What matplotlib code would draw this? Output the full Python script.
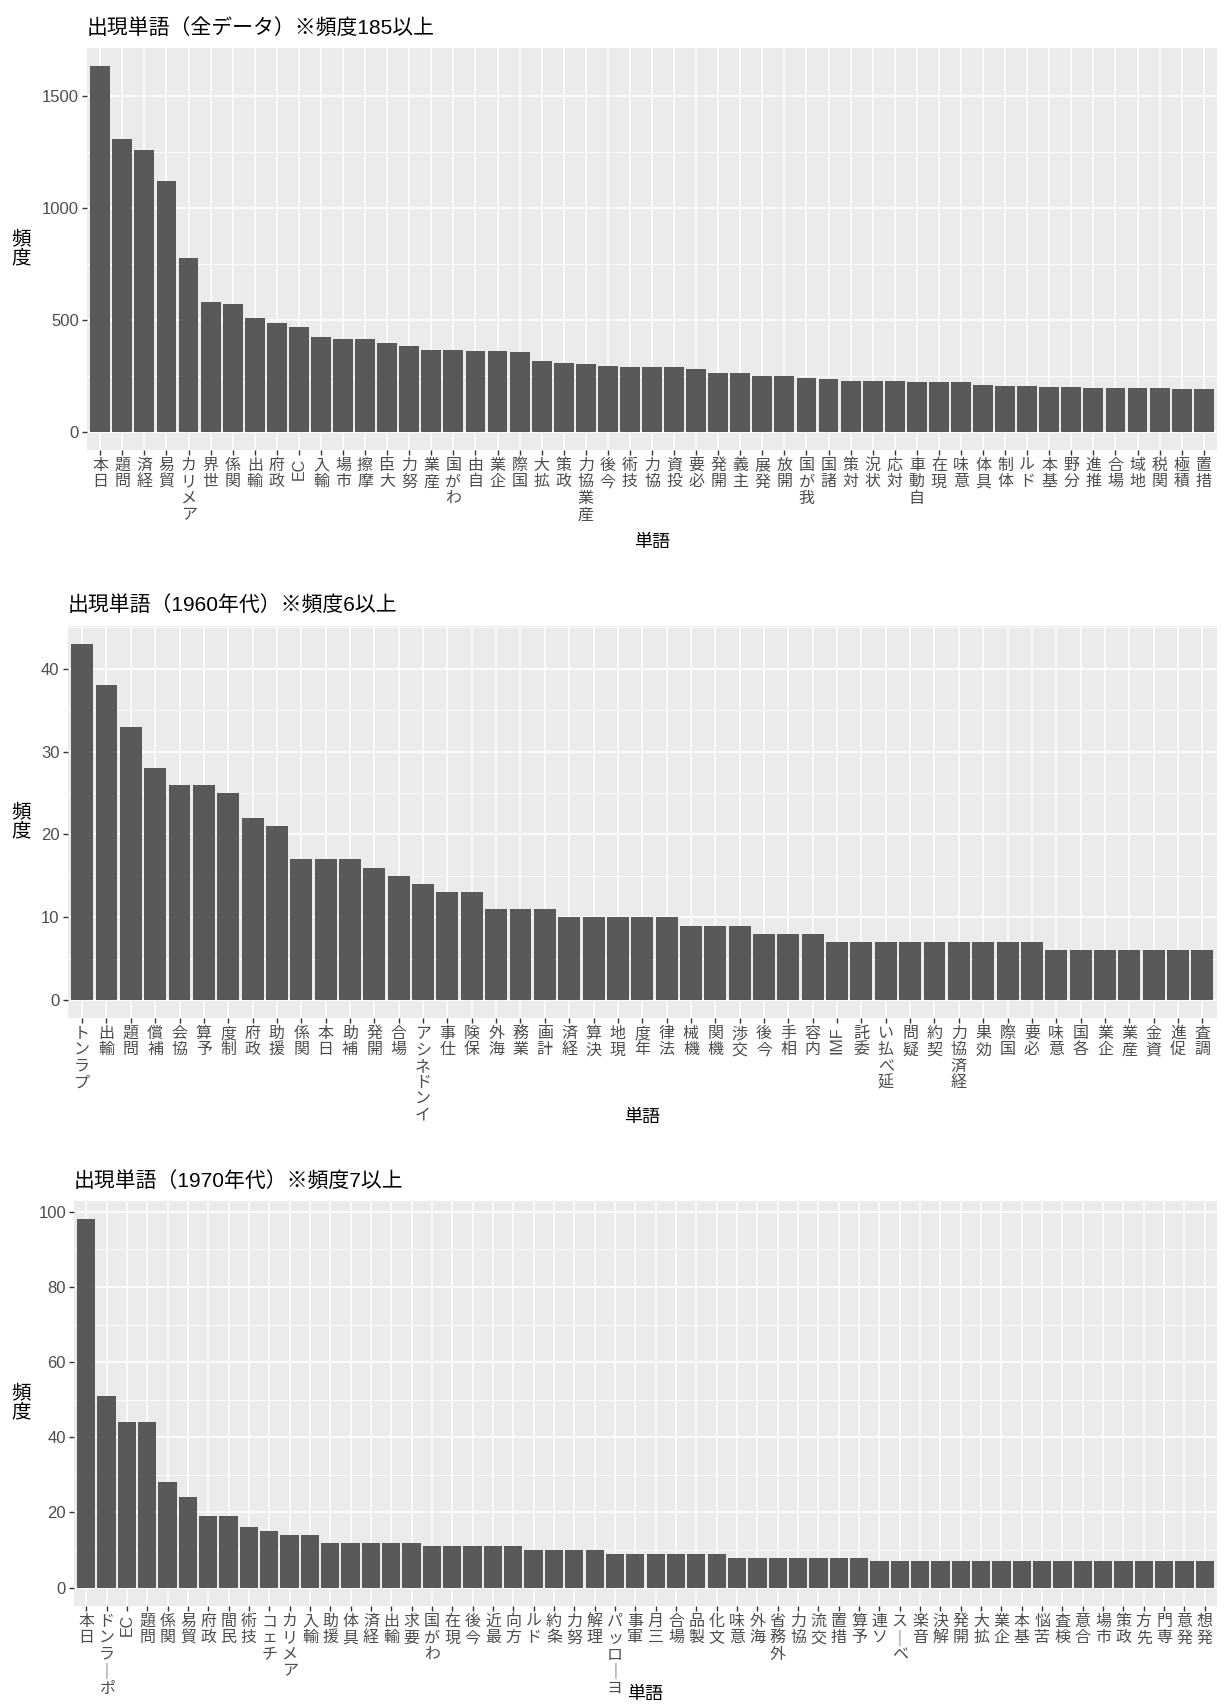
import matplotlib
matplotlib.use("Agg")
import matplotlib.pyplot as plt
from matplotlib.ticker import FixedLocator

plt.rcParams['font.family'] = ['Liberation Sans', 'Noto Sans CJK JP', 'DejaVu Sans']

# ---------------- data ----------------
words_all = ["日本", "問題", "経済", "貿易", "アメリカ", "世界", "関係", "輸出", "政府", "EC",
             "輸入", "市場", "摩擦", "大臣", "努力", "産業", "わが国", "自由", "企業", "国際",
             "拡大", "政策", "産業協力", "今後", "技術", "協力", "投資", "必要", "開発", "主義",
             "発展", "開放", "我が国", "諸国", "対策", "状況", "対応", "自動車", "現在", "意味",
             "具体", "体制", "ドル", "基本", "分野", "推進", "場合", "地域", "関税", "積極", "措置"]
freq_all = [1632, 1306, 1260, 1121, 776, 581, 571, 509, 487, 468,
            422, 412, 412, 396, 385, 365, 365, 359, 359, 354,
            318, 309, 303, 294, 288, 288, 288, 282, 263, 263,
            251, 247, 241, 235, 226, 226, 226, 222, 222, 222,
            210, 206, 206, 200, 200, 196, 196, 196, 196, 190, 190]

words_60s = ["プラント", "輸出", "問題", "補償", "協会", "予算", "制度", "政府", "援助", "関係",
             "日本", "補助", "開発", "場合", "インドネシア", "仕事", "保険", "海外", "業務", "計画",
             "経済", "決算", "現地", "年度", "法律", "機械", "機関", "交渉", "今後", "相手",
             "内容", "IMF", "委託", "延べ払い", "疑問", "契約", "経済協力", "効果", "国際", "必要",
             "意味", "各国", "企業", "産業", "資金", "促進", "調査"]
freq_60s = [43, 38, 33, 28, 26, 26, 25, 22, 21, 17,
            17, 17, 16, 15, 14, 13, 13, 11, 11, 11,
            10, 10, 10, 10, 10, 9, 9, 9, 8, 8,
            8, 7, 7, 7, 7, 7, 7, 7, 7, 7,
            6, 6, 6, 6, 6, 6, 6]

words_70s = ["日本", "ポーランド", "EC", "問題", "関係", "貿易", "政府", "民間", "技術", "チェコ",
             "アメリカ", "輸入", "援助", "具体", "経済", "輸出", "要求", "わが国", "現在", "今後",
             "最近", "方向", "ドル", "条約", "努力", "理解", "ヨーロッパ", "軍事", "三月", "場合",
             "製品", "文化", "意味", "海外", "外務省", "協力", "交流", "措置", "予算", "ソ連",
             "ベース", "音楽", "解決", "開発", "拡大", "企業", "基本", "苦悩", "検査", "合意",
             "市場", "政策", "先方", "専門", "発意", "発想"]
freq_70s = [98, 51, 44, 44, 28, 24, 19, 19, 16, 15,
            14, 14, 12, 12, 12, 12, 12, 11, 11, 11,
            11, 11, 10, 10, 10, 10, 9, 9, 9, 9,
            9, 9, 8, 8, 8, 8, 8, 8, 8, 7,
            7, 7, 7, 7, 7, 7, 7, 7, 7, 7,
            7, 7, 7, 7, 7, 7]

titles = ["出現単語（全データ）※頻度185以上",
          "出現単語（1960年代）※頻度6以上",
          "出現単語（1970年代）※頻度7以上"]
major_ticks = [[0, 500, 1000, 1500], [0, 10, 20, 30, 40], [0, 20, 40, 60, 80, 100]]
minor_ticks = [[250, 750, 1250], [5, 15, 25, 35, 45], [10, 30, 50, 70, 90]]

# ---------------- layout ----------------
W, H = 1224, 1707
fig = plt.figure(figsize=(W / 100, H / 100), dpi=100)

# (left, top, right, bottom) in pixels
boxes = [(87, 48, 1217, 450), (67.5, 626, 1217, 1018), (74, 1201, 1217, 1606)]
xlabel_y = [-0.21, -0.232, -0.197]
ylabel_x = [-0.058, -0.040, -0.046]
title_pad = [10, 11, 10]

datasets = [(words_all, freq_all), (words_60s, freq_60s), (words_70s, freq_70s)]


def vlabel(s):
    if s.isascii():
        return s
    return "\n".join("｜" if ch == "ー" else ch for ch in reversed(s))


for k, ((words, freqs), (l, t, r, b)) in enumerate(zip(datasets, boxes)):
    ax = fig.add_axes([l / W, 1 - b / H, (r - l) / W, (b - t) / H])
    n = len(words)
    xs = list(range(n))
    ax.bar(xs, freqs, width=0.9, color='#595959', zorder=2)
    mx = max(freqs)
    ax.set_ylim(-0.05 * mx, 1.05 * mx)
    ax.set_xlim(-0.6, n - 0.4)

    ax.set_facecolor('#EBEBEB')
    for sp in ax.spines.values():
        sp.set_visible(False)
    ax.set_axisbelow(True)
    ax.yaxis.set_major_locator(FixedLocator(major_ticks[k]))
    ax.yaxis.set_minor_locator(FixedLocator(minor_ticks[k]))
    ax.set_xticks(xs)
    ax.set_xticklabels([vlabel(w) for w in words], linespacing=1.12)
    for lab, w in zip(ax.get_xticklabels(), words):
        if w.isascii():
            lab.set_rotation(90)
    ax.grid(which='major', color='white', linewidth=1.1)
    ax.grid(which='minor', axis='y', color='white', linewidth=0.55)
    ax.tick_params(axis='both', which='major', length=3.7, width=1.0,
                   color='#333333', labelcolor='#4D4D4D', labelsize=11.5, pad=2)
    ax.tick_params(axis='y', which='minor', length=0)
    for lab in ax.get_yticklabels():
        lab.set_fontsize(12)

    ax.set_xlabel('単語', fontsize=13, color='black')
    ax.xaxis.set_label_coords(0.5, xlabel_y[k])
    ax.set_ylabel('頻\n度', fontsize=14, color='black', rotation=0,
                  va='center', ha='center', linespacing=1.05)
    ax.yaxis.set_label_coords(ylabel_x[k], 0.5)
    ax.set_title(titles[k], loc='left', fontsize=15, color='black', pad=title_pad[k])

fig.savefig('out.png', dpi=100, facecolor='white')
